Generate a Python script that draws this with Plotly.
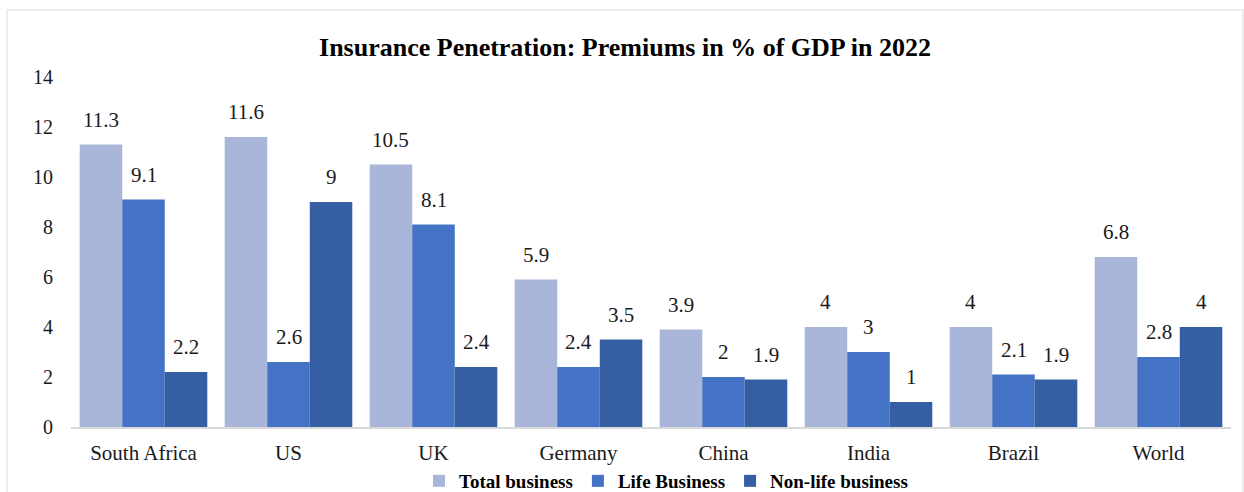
import plotly.graph_objects as go

categories = ["South Africa", "US", "UK", "Germany", "China", "India", "Brazil", "World"]
total_business = [11.3, 11.6, 10.5, 5.9, 3.9, 4, 4, 6.8]
life_business = [9.1, 2.6, 8.1, 2.4, 2, 3, 2.1, 2.8]
nonlife_business = [2.2, 9, 2.4, 3.5, 1.9, 1, 1.9, 4]
y_ticks = [0, 2, 4, 6, 8, 10, 12, 14]

series = [
    ("Total business", total_business, "#A9B6DA"),
    ("Life Business", life_business, "#4472C4"),
    ("Non-life business", nonlife_business, "#365EA3"),
]

FONT = "Liberation Serif"

fig = go.Figure()
for name, vals, col in series:
    fig.add_trace(go.Bar(
        x=categories, y=vals, name=name,
        marker=dict(color=col, line=dict(width=0)),
    ))

W, H = 1244, 492
ml, mr, mt, mb = 71, 13, 77, 65
plot_w = W - ml - mr
plot_h = H - mt - mb
cat_w = plot_w / len(categories)
bargap = 0.12
bar_w = cat_w * (1 - bargap) / 3
annotations = []
for i, (name, vals, col) in enumerate(series):
    for c, v in zip(categories, vals):
        annotations.append(dict(
            x=c, y=v, xref="x", yref="y", text=f"{v:g}",
            showarrow=False, xshift=(i - 1) * bar_w, yshift=11,
            yanchor="bottom", xanchor="center",
            font=dict(family=FONT, size=21, color="#1a1a1a"),
        ))

fig.update_layout(
    width=W, height=H,
    margin=dict(l=ml, r=mr, t=mt, b=mb, autoexpand=False),
    paper_bgcolor="white", plot_bgcolor="white",
    barmode="group", bargap=bargap, bargroupgap=0,
    font=dict(family=FONT, size=20, color="#1a1a1a"),
    title=dict(
        text="<b>Insurance Penetration: Premiums in % of GDP in 2022</b>",
        x=625 / W, xanchor="center", y=1 - 47 / H, yanchor="middle",
        font=dict(family=FONT, size=26, color="#000000"),
    ),
    xaxis=dict(
        showgrid=False, showline=True, linecolor="#D9D9D9", linewidth=2,
        ticks="", ticklabelstandoff=6, automargin=False,
        tickfont=dict(family=FONT, size=21, color="#1a1a1a"),
    ),
    yaxis=dict(
        range=[0, 14], tickvals=y_ticks, showgrid=False, showline=False,
        zeroline=False, ticks="", ticklabelstandoff=17, automargin=False,
        tickfont=dict(family=FONT, size=20, color="#1a1a1a"),
    ),
    legend=dict(
        orientation="h", xref="container", yref="container",
        x=666 / W, xanchor="center", y=1 - 481 / H, yanchor="middle",
        bgcolor="rgba(0,0,0,0)",
        font=dict(family=FONT, size=19, color="#000000", weight="bold"),
        traceorder="normal", itemwidth=30,
    ),
    annotations=annotations,
    showlegend=True,
)

fig.add_shape(
    type="rect", xref="paper", yref="paper",
    x0=(7 - ml) / plot_w, x1=(1243 - ml) / plot_w,
    y0=(427 - 500) / plot_h, y1=(427 - 10) / plot_h,
    line=dict(color="#EDEDED", width=2), fillcolor="rgba(0,0,0,0)", layer="below",
)

fig.write_html(
    "out.html",
    config={"displayModeBar": False},
    post_script="document.body.style.margin='0';",
)
